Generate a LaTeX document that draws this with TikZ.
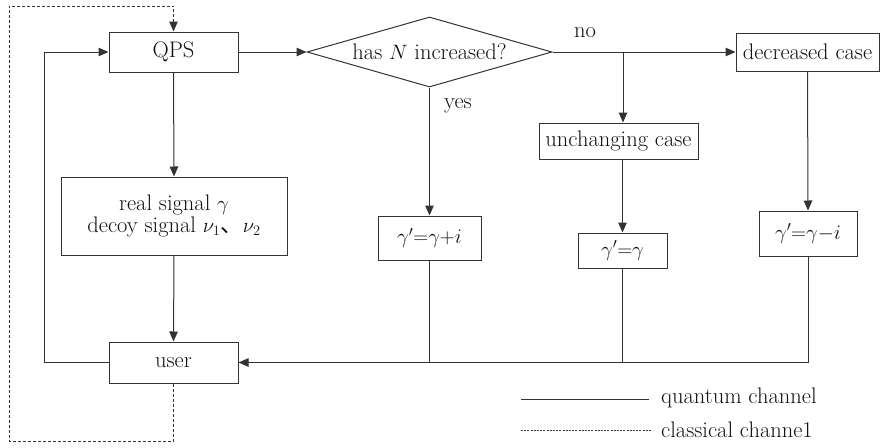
\documentclass[tikz,border=0pt]{standalone}
\usepackage{fontspec}
\newfontfamily\cjk{Noto Sans CJK SC}
\usetikzlibrary{arrows.meta,shapes.geometric,calc}
\definecolor{ink}{HTML}{111111}
\definecolor{wire}{HTML}{333333}
\begin{document}
\begin{tikzpicture}[x=1pt,y=-1pt,
  every node/.style={font=\fontsize{22.5}{26}\selectfont, text=ink},
  box/.style={draw=wire, line width=1pt, rectangle, inner sep=0pt, align=center},
  link/.style={draw=wire, line width=1pt},
  arr/.style={link, -{Triangle[length=10pt,width=8.5pt]}},
  cls/.style={link, dash pattern=on 3pt off 2pt}]
  \useasboundingbox (0,0) rectangle (880,447);

  % boxes
  \node[box, minimum width=129pt, minimum height=40pt] (qps) at (173.5,52) {QPS};
  \node[box, minimum width=226pt, minimum height=78pt] (sig) at (174,216)
    {real signal $\gamma$\\[-4pt] decoy signal $\nu_1${\cjk 、}$\nu_2$};
  \node[box, minimum width=129pt, minimum height=41pt] (user) at (173.5,362.5) {user};
  \node[draw=wire, line width=1pt, diamond, inner sep=0pt,
        minimum width=245pt, minimum height=70pt] (ask) at (429.5,52) {};
  \node at (ask) {has $N$ increased?};
  \node[box, minimum width=103pt, minimum height=44pt] (inc) at (429.5,238) {$\gamma'{=}\gamma{+}i$};
  \node[box, minimum width=159pt, minimum height=36pt] (unch) at (618.5,141) {unchanging case};
  \node[box, minimum width=89pt, minimum height=35pt] (same) at (622.5,250.5) {$\gamma'{=}\gamma$};
  \node[box, minimum width=143pt, minimum height=38pt] (decr) at (807.5,52) {decreased case};
  \node[box, minimum width=98pt, minimum height=45pt] (minus) at (808,233.5) {$\gamma'{=}\gamma{-}i$};

  % branch labels
  \node (no) at (585,33) {no};
  \node (yes) at (458,106) {yes};

  % helper points
  \coordinate (br) at (623,52);
  \coordinate (fb) at (44,0);
  \coordinate (cb) at (9,441);
  \coordinate (ct) at (9,6);

  % quantum channel
  \draw[arr] (qps.east) -- (ask.west);
  \draw[arr] (ask.east) -- (decr.west);
  \draw[arr] (br) -- (br |- unch.north);
  \draw[arr] (ask.south) -- (inc.north);
  \draw[arr] (same.north |- unch.south) -- (same.north);
  \draw[arr] (decr.south) -- (minus.north);
  \draw[arr] (qps.south) -- (sig.north);
  \draw[arr] (sig.south) -- (user.north);
  \draw[arr] (minus.south) -- (minus.south |- user.east) -- (user.east);
  \draw[link] (inc.south) -- (inc.south |- user.east);
  \draw[link] (same.south) -- (same.south |- user.east);
  \draw[arr] (user.west) -- (user.west -| fb) |- (qps.west);

  % classical channel
  \draw[cls, -{Triangle[length=10pt,width=8.5pt]}] (user.south) |- (cb) -- (ct) -| (qps.north);

  % legend
  \coordinate (q1) at (521,399);
  \coordinate (q2) at (649,399);
  \coordinate (c1) at (521,430);
  \coordinate (c2) at (652,430);
  \draw[link] (q1) -- (q2);
  \draw[draw=wire, line width=0.8pt, dash pattern=on 2pt off 1.2pt] (c1) -- (c2);
  \node[anchor=west, inner sep=0pt] (lq) at (661,398) {quantum channel};
  \node[anchor=west, inner sep=0pt] (lc) at (661,430) {classical channe1};
\end{tikzpicture}
\end{document}
